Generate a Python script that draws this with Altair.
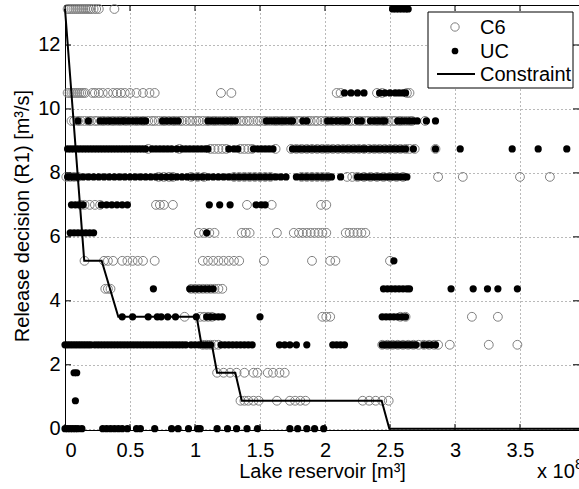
import altair as alt
import pandas as pd

# ---------------- data (x in units of 1e8 m3, y = release level m3/s) ----------------
xticks = [0, 0.5, 1, 1.5, 2, 2.5, 3, 3.5]
yticks = [0, 2, 4, 6, 8, 10, 12]
legend_labels = ["C6", "UC", "Constraint"]

# C6 (open grey circles), one list per release level
c6_13125 = [0.02, 0.035, 0.05, 0.065, 0.08, 0.095, 0.11, 0.125, 0.14, 0.155, 0.17, 0.185, 0.20, 0.22, 0.24, 0.26, 0.38]
c6_10500 = [0.02, 0.035, 0.05, 0.065, 0.08, 0.095, 0.11, 0.125, 0.14, 0.155, 0.21, 0.23, 0.26, 0.29, 0.33, 0.37,
            0.40, 0.43, 0.46, 0.50, 0.55, 0.60, 0.65, 0.69, 1.20, 1.28, 2.09, 2.12, 2.40, 2.44, 2.63, 2.65]
c6_9625 = [0.05, 0.07, 0.10, 0.12, 0.15, 0.18, 0.20, 0.23, 0.25, 0.28, 0.30, 0.33, 0.36, 0.38, 0.41, 0.43, 0.46,
           0.48, 0.51, 0.54, 0.56, 0.59, 0.61, 0.64, 0.67, 0.69, 0.72, 0.75, 0.77, 0.80, 0.83, 0.85, 0.88, 0.90,
           0.93, 0.96, 0.98, 1.01, 1.03, 1.06, 1.09, 1.11, 1.14, 1.16, 1.19, 1.22, 1.24, 1.27, 1.29, 1.32, 1.35,
           1.37, 1.40, 1.42, 1.45, 1.48, 1.50, 1.53, 1.55, 1.58, 1.61, 1.63, 1.66, 1.68, 1.71, 1.74, 1.76, 1.79,
           1.81, 1.84, 1.87, 1.89, 1.92, 1.94, 1.97, 2.00, 2.02, 2.05, 2.07, 2.10, 2.13, 2.15, 2.18, 2.20, 2.23,
           2.26, 2.28, 2.31, 2.33, 2.36, 2.39, 2.41, 2.44, 2.46, 2.49, 2.52, 2.54, 2.57, 2.59, 2.62, 2.65, 2.67, 2.77]
c6_8750 = [0.64, 0.88, 1.12, 1.15, 1.18, 1.21, 1.24, 1.35, 1.38, 1.41, 1.44, 1.62, 1.74, 1.78, 1.82, 1.86, 1.90,
           1.94, 1.98, 2.02, 2.06, 2.10, 2.14, 2.18, 2.22, 2.26, 2.30, 2.34, 2.38, 2.42, 2.46, 2.50, 2.54, 2.58,
           2.62, 2.65, 2.69, 2.85]
c6_7875 = [0.01, 0.04, 0.07, 0.10, 0.72, 0.76, 0.80, 0.83, 0.97, 1.02, 1.07, 1.30, 1.34, 1.38, 1.42, 1.46, 1.50,
           1.54, 1.58, 1.82, 1.86, 1.90, 1.94, 1.98, 2.02, 2.17, 2.21, 2.25, 2.30, 2.35, 2.40, 2.45, 2.50, 2.55,
           2.60, 2.87, 3.06, 3.50, 3.73]
c6_7000 = [0.12, 0.15, 0.19, 0.23, 0.27, 0.70, 0.73, 0.76, 0.83, 1.40, 1.59, 1.97, 2.01]
c6_6125 = [1.03, 1.07, 1.11, 1.15, 1.36, 1.39, 1.42, 1.63, 1.76, 1.80, 1.83, 1.86, 1.89, 1.92, 1.95, 1.98, 2.01,
           2.16, 2.19, 2.22, 2.25, 2.28, 2.31]
c6_5250 = [0.15, 0.30, 0.33, 0.37, 0.44, 0.48, 0.52, 0.56, 0.60, 0.69, 1.06, 1.10, 1.14, 1.18, 1.22, 1.26, 1.30,
           1.34, 1.53, 1.90, 2.04, 2.08, 2.50]
c6_4375 = [0.31, 0.33, 0.35, 0.97, 1.00, 1.03, 1.06, 1.09, 1.12, 1.15, 1.18, 1.21]
c6_3500 = [0.92, 1.04, 1.07, 1.10, 1.13, 1.98, 2.01, 2.04, 2.58, 2.62, 3.13, 3.33]
c6_2625 = [1.06, 1.09, 1.12, 1.15, 1.18, 2.44, 2.48, 2.52, 2.56, 2.60, 2.64, 2.68, 2.72, 2.76, 2.80, 2.84, 2.87,
           2.96, 3.26, 3.48]
c6_1750 = [1.17, 1.22, 1.27, 1.32, 1.38, 1.45, 1.48, 1.56, 1.60, 1.65, 1.69]
c6_0875 = [1.35, 1.38, 1.41, 1.45, 1.49, 1.63, 1.73, 1.77, 1.81, 1.85, 2.29, 2.34, 2.39, 2.44, 2.49]

# UC (filled black dots)
uc_13125 = [2.52, 2.545, 2.57, 2.595, 2.62, 2.64]
uc_10500 = [2.15, 2.20, 2.25, 2.30, 2.42, 2.46, 2.50, 2.54, 2.57, 2.60, 2.62]
uc_9625 = [0.10, 0.18, 0.27, 0.30, 0.33, 0.35, 0.38, 0.41, 0.44, 0.46, 0.49, 0.52, 0.55, 0.58, 0.60, 0.62, 0.75,
           0.78, 0.81, 0.84, 0.87, 1.10, 1.13, 1.16, 1.19, 1.22, 1.25, 1.28, 1.31, 1.55, 1.58, 1.61, 1.64, 1.67,
           1.70, 1.73, 1.75, 1.83, 1.86, 2.02, 2.05, 2.09, 2.12, 2.15, 2.17, 2.25, 2.28, 2.35, 2.38, 2.41, 2.44,
           2.46, 2.56, 2.59, 2.62, 2.65, 2.68, 2.71, 2.78, 2.85]
uc_8750 = [0.02, 0.045, 0.07, 0.095, 0.12, 0.145, 0.17, 0.195, 0.22, 0.245, 0.27, 0.295, 0.32, 0.345, 0.37, 0.395,
           0.42, 0.445, 0.47, 0.495, 0.52, 0.545, 0.57, 0.595, 0.62, 0.67, 0.70, 0.73, 0.76, 0.79, 0.82, 0.86,
           0.90, 0.93, 0.96, 0.99, 1.02, 1.05, 1.08, 1.10, 1.26, 1.30, 1.33, 1.45, 1.48, 1.51, 1.54, 1.57, 1.60,
           1.75, 1.78, 1.81, 1.84, 1.87, 1.90, 1.93, 1.96, 1.99, 2.02, 2.05, 2.08, 2.11, 2.14, 2.17, 2.20, 2.23,
           2.26, 2.29, 2.31, 2.35, 2.38, 2.41, 2.44, 2.47, 2.50, 2.53, 2.56, 2.59, 2.62, 2.68, 2.85, 3.04, 3.44,
           3.64, 3.86]
uc_7875 = [0.02, 0.04, 0.06, 0.08, 0.10, 0.14, 0.18, 0.22, 0.26, 0.30, 0.34, 0.38, 0.42, 0.46, 0.50, 0.54, 0.58,
           0.62, 0.66, 0.70, 0.74, 0.78, 0.82, 0.86, 0.90, 0.94, 0.98, 1.02, 1.06, 1.10, 1.14, 1.18, 1.22, 1.26,
           1.30, 1.34, 1.38, 1.42, 1.46, 1.50, 1.54, 1.58, 1.62, 1.66, 1.70, 1.78, 1.82, 1.86, 1.90, 1.94, 1.98,
           2.02, 2.05, 2.12, 2.25, 2.28, 2.31, 2.34, 2.37, 2.40, 2.43, 2.46, 2.49, 2.52, 2.55, 2.58, 2.61, 2.63]
uc_7000 = [0.05, 0.08, 0.11, 0.14, 0.28, 0.32, 0.36, 0.40, 0.44, 0.48, 1.11, 1.19, 1.27, 1.47, 1.51, 1.54]
uc_6125 = [0.04, 0.07, 0.10, 0.13, 0.16, 0.19, 0.22, 1.09]
uc_5250 = [2.53]
uc_4375 = [0.68, 0.96, 0.99, 1.02, 1.05, 1.08, 1.11, 1.14, 2.45, 2.48, 2.51, 2.54, 2.57, 2.60, 2.63, 2.65, 2.97,
           3.14, 3.25, 3.33, 3.48]
uc_3500 = [0.44, 0.52, 0.64, 0.71, 0.74, 0.79, 0.85, 1.01, 1.09, 1.12, 1.15, 1.18, 1.21, 1.50, 2.44, 2.47, 2.50,
           2.53, 2.56, 2.59, 2.62]
uc_2625 = [0.00, 0.02, 0.04, 0.06, 0.08, 0.10, 0.12, 0.14, 0.16, 0.18, 0.20, 0.23, 0.255, 0.28, 0.305, 0.33,
           0.355, 0.38, 0.405, 0.43, 0.455, 0.48, 0.505, 0.53, 0.555, 0.58, 0.605, 0.63, 0.655, 0.68, 0.705, 0.73,
           0.755, 0.78, 0.805, 0.83, 0.855, 0.88, 0.905, 0.93, 0.97, 1.00, 1.03, 1.06, 1.09, 1.12, 1.20, 1.23,
           1.26, 1.29, 1.32, 1.35, 1.38, 1.41, 1.44, 1.65, 1.69, 1.73, 1.78, 1.86, 2.06, 2.09, 2.12, 2.15, 2.44,
           2.46, 2.48, 2.50, 2.52, 2.54, 2.56, 2.58, 2.60, 2.62, 2.64, 2.66, 2.68, 2.70, 2.76, 2.79, 2.82, 2.85]
uc_1750 = [0.07, 0.09]
uc_0875 = [0.08]
uc_0000 = [0.00, 0.02, 0.04, 0.06, 0.08, 0.10, 0.13, 0.29, 0.32, 0.35, 0.38, 0.41, 0.44, 0.48, 0.55, 0.58, 0.69,
           0.82, 0.87, 0.95, 1.02, 1.04, 1.17, 1.25, 1.32, 1.40, 1.48, 1.73, 1.79, 1.86, 1.92, 1.99]

# Constraint (step-like release limit)
constraint_x = [0.0, 0.148, 0.282, 0.41, 1.013, 1.05, 1.13, 1.17, 1.31, 1.36, 2.436, 2.495, 3.954]
constraint_y = [13.125, 5.25, 5.25, 3.5, 3.5, 2.625, 2.625, 1.75, 1.75, 0.875, 0.875, 0.0, 0.0]

c6_rows = [(13.125, c6_13125), (10.5, c6_10500), (9.625, c6_9625), (8.75, c6_8750), (7.875, c6_7875),
           (7.0, c6_7000), (6.125, c6_6125), (5.25, c6_5250), (4.375, c6_4375), (3.5, c6_3500),
           (2.625, c6_2625), (1.75, c6_1750), (0.875, c6_0875)]
uc_rows = [(13.125, uc_13125), (10.5, uc_10500), (9.625, uc_9625), (8.75, uc_8750), (7.875, uc_7875),
           (7.0, uc_7000), (6.125, uc_6125), (5.25, uc_5250), (4.375, uc_4375), (3.5, uc_3500),
           (2.625, uc_2625), (1.75, uc_1750), (0.875, uc_0875), (0.0, uc_0000)]

df_c6 = pd.DataFrame([{"x": x, "y": lvl} for lvl, xs in c6_rows for x in xs])
df_uc = pd.DataFrame([{"x": x, "y": lvl} for lvl, xs in uc_rows for x in xs])
df_con = pd.DataFrame({"x": constraint_x, "y": constraint_y, "o": list(range(len(constraint_x)))})
df_xt = pd.DataFrame({"x": xticks})
df_yt = pd.DataFrame({"y": yticks})

# ---------------- layout ----------------
W, H = 514, 425
FONT = "Liberation Sans"
xs = alt.Scale(domain=[0, 3.954], nice=False, zero=False)
ys = alt.Scale(domain=[-0.04, 13.25], nice=False, zero=False)

x_axis = alt.Axis(values=xticks, format="~g", grid=True, gridDash=[1, 3], gridColor="#000000",
                  gridOpacity=0.55, ticks=False, tickSize=0, domain=False, labelFontSize=20,
                  labelFont=FONT, labelColor="black", labelPadding=10,
                  title="Lake reservoir [m³]", titleFont=FONT, titleFontSize=20,
                  titleFontWeight="normal", titleColor="black", titleBaseline="alphabetic",
                  titleX=W / 2, titleY=47, titleAlign="center")
y_axis = alt.Axis(values=yticks, format="~g", grid=True, gridDash=[1, 3], gridColor="#000000",
                  gridOpacity=0.55, ticks=False, tickSize=0, domain=False, labelFontSize=20,
                  labelFont=FONT, labelColor="black", labelPadding=5,
                  title="Release decision (R1) [m³/s]", titleFont=FONT, titleFontSize=20,
                  titleFontWeight="normal", titleColor="black", titleAngle=270,
                  titleBaseline="alphabetic", titleAlign="center", titleX=-37, titleY=H / 2 - 2)

c6 = alt.Chart(df_c6).mark_point(shape="circle", filled=False, size=78, stroke="#808080",
                                 strokeWidth=1, opacity=1).encode(
    x=alt.X("x:Q", scale=xs, axis=x_axis), y=alt.Y("y:Q", scale=ys, axis=y_axis))

uc = alt.Chart(df_uc).mark_point(shape="circle", filled=True, size=52, fill="black",
                                 stroke="black", strokeWidth=0, opacity=1).encode(
    x=alt.X("x:Q", scale=xs), y=alt.Y("y:Q", scale=ys))

con = alt.Chart(df_con).mark_line(color="black", strokeWidth=2).encode(
    x=alt.X("x:Q", scale=xs), y=alt.Y("y:Q", scale=ys), order="o:Q")

TL = 6
tick_b = alt.Chart(df_xt).mark_rule(color="black", strokeWidth=1).encode(
    x=alt.X("x:Q", scale=xs), y=alt.value(H), y2=alt.value(H - TL))
tick_t = alt.Chart(df_xt).mark_rule(color="black", strokeWidth=1).encode(
    x=alt.X("x:Q", scale=xs), y=alt.value(0), y2=alt.value(TL))
tick_l = alt.Chart(df_yt).mark_rule(color="black", strokeWidth=1).encode(
    y=alt.Y("y:Q", scale=ys), x=alt.value(0), x2=alt.value(TL))
tick_r = alt.Chart(df_yt).mark_rule(color="black", strokeWidth=1).encode(
    y=alt.Y("y:Q", scale=ys), x=alt.value(W), x2=alt.value(W - TL))

one = pd.DataFrame({"t": ["x 10"]})
exp_txt = alt.Chart(one).mark_text(font=FONT, fontSize=20, align="left", baseline="alphabetic",
                                   color="black").encode(
    x=alt.value(472), y=alt.value(H + 48), text="t:N")
exp8 = alt.Chart(pd.DataFrame({"t": ["8"]})).mark_text(font=FONT, fontSize=15, align="left",
                                                        baseline="alphabetic", color="black").encode(
    x=alt.value(510), y=alt.value(H + 39), text="t:N")

# legend
lg_box = alt.Chart(one).mark_rect(fill="white", stroke="black", strokeWidth=1).encode(
    x=alt.value(363), x2=alt.value(508), y=alt.value(7), y2=alt.value(83))
lg_c6 = alt.Chart(one).mark_point(shape="circle", filled=False, size=70, stroke="#808080",
                                  strokeWidth=1, opacity=1).encode(x=alt.value(390), y=alt.value(22))
lg_uc = alt.Chart(one).mark_point(shape="circle", filled=True, size=45, fill="black",
                                  strokeWidth=0, opacity=1).encode(x=alt.value(390), y=alt.value(46))
lg_line = alt.Chart(one).mark_rule(color="black", strokeWidth=2).encode(
    x=alt.value(372), x2=alt.value(410), y=alt.value(69))
lg_texts = []
for lab, yy in zip(legend_labels, [22, 46, 69]):
    lg_texts.append(alt.Chart(pd.DataFrame({"t": [lab]})).mark_text(
        font=FONT, fontSize=20, align="left", baseline="middle", color="black").encode(
        x=alt.value(415), y=alt.value(yy + 1), text="t:N"))

chart = alt.layer(c6, uc, con, tick_b, tick_t, tick_l, tick_r, exp_txt, exp8,
                  lg_box, lg_c6, lg_uc, lg_line, *lg_texts).properties(
    width=W, height=H,
    autosize=alt.AutoSizeParams(type="none"),
    padding={"left": 65, "top": 5, "right": 0, "bottom": 59},
    background="white",
).configure_view(stroke="black", strokeWidth=1)

chart.save("out.html", embed_options={"renderer": "svg", "actions": False})
